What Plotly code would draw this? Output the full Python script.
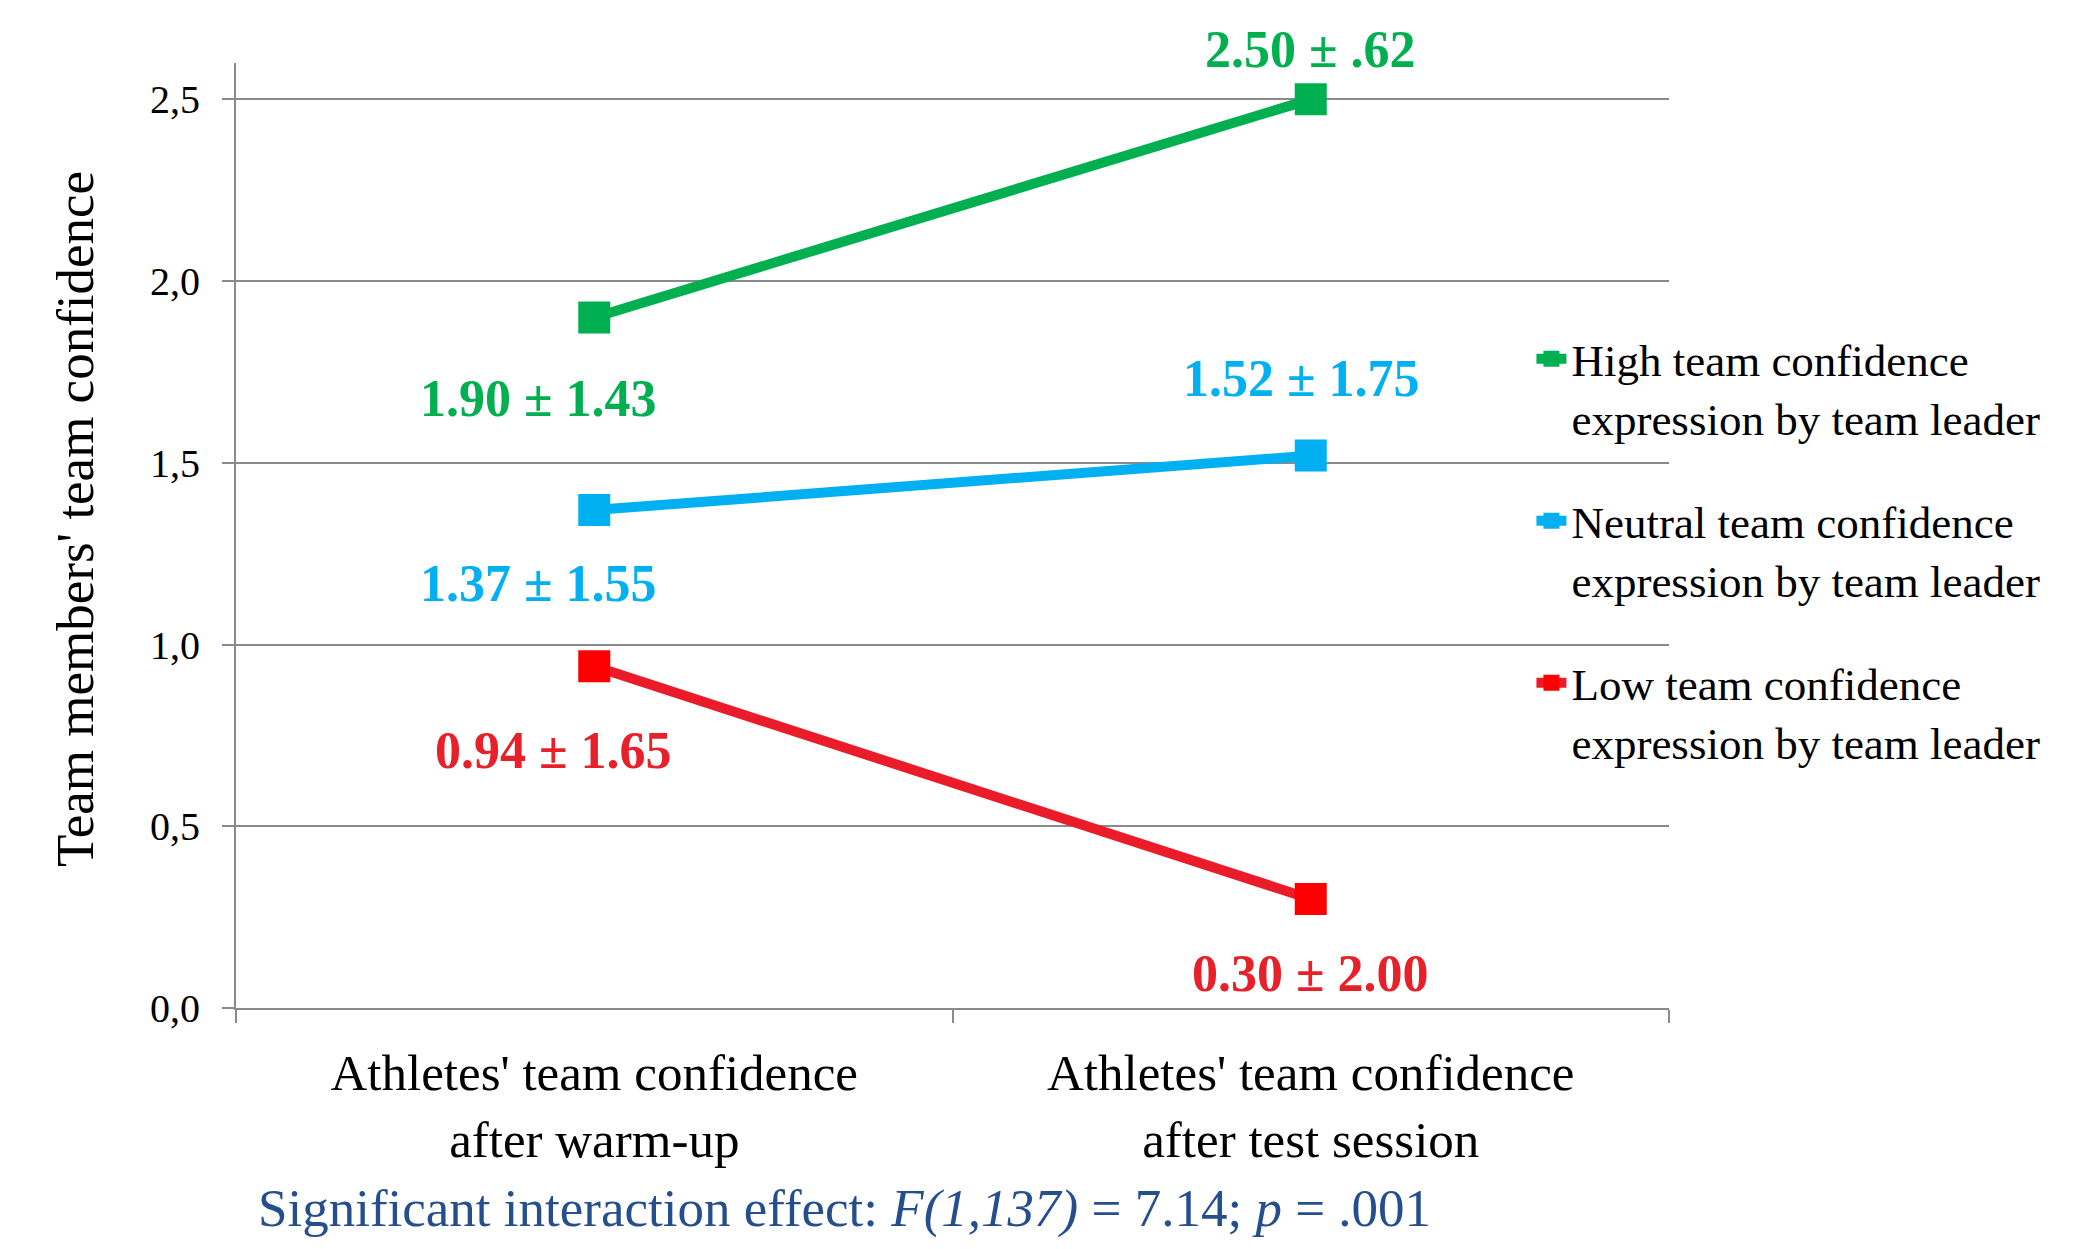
import plotly.graph_objects as go

# ---- data ----
categories = ["Athletes' team confidence<br>after warm-up",
              "Athletes' team confidence<br>after test session"]
series_names = ["High team confidence<br>expression by team leader",
                "Neutral team confidence<br>expression by team leader",
                "Low team confidence<br>expression by team leader"]
high_mean = [1.90, 2.50]
high_sd = [1.43, 0.62]
neutral_mean = [1.37, 1.52]
neutral_sd = [1.55, 1.75]
low_mean = [0.94, 0.30]
low_sd = [1.65, 2.00]
y_ticks = [0.0, 0.5, 1.0, 1.5, 2.0, 2.5]
y_title = "Team members' team confidence"
footnote = ("Significant interaction effect: <i>F(1,137)</i> = 7.14; <i>p</i> = .001")

# ---- styles ----
FONT = "Liberation Serif, Times New Roman, serif"
line_colors = ["#00B050", "#00B0F0", "#EB1C2A"]
marker_colors = ["#00B050", "#00B0F0", "#FF0000"]
label_colors = ["#00B050", "#00B0F0", "#E8202A"]
# label offsets in pixels (xshift, yshift) per series per point
label_shifts = [[(-56, -81), (0, 50)],
                [(-56, -73), (-9, 77)],
                [(-41, -84), (0, -75)]]


def fmt_sd(s):
    t = f"{s:.2f}"
    return t[1:] if t.startswith("0") else t


means = [high_mean, neutral_mean, low_mean]
sds = [high_sd, neutral_sd, low_sd]

fig = go.Figure()
for i in range(3):
    fig.add_trace(go.Scatter(
        x=categories, y=means[i], mode="lines+markers", name=series_names[i],
        legendgroup=f"g{i}",
        line=dict(color=line_colors[i], width=10),
        marker=dict(symbol="square", size=32, color=marker_colors[i], line=dict(width=0)),
        cliponaxis=False,
    ))
    for j in range(2):
        dx, dy = label_shifts[i][j]
        fig.add_annotation(
            x=categories[j], y=means[i][j], xref="x", yref="y",
            text=f"<b>{means[i][j]:.2f} ± {fmt_sd(sds[i][j])}</b>",
            showarrow=False, xshift=dx, yshift=dy,
            font=dict(family=FONT, size=52, color=label_colors[i]),
        )

# y-axis title
fig.add_annotation(
    x=-0.1124, y=0.5175, xref="paper", yref="paper", xanchor="center", yanchor="middle",
    text=y_title, textangle=-90, showarrow=False,
    font=dict(family=FONT, size=53, color="black"),
)

# footnote
fig.add_annotation(
    x=0.014, y=-0.212, xref="paper", yref="paper", xanchor="left", yanchor="middle",
    text=footnote, showarrow=False,
    font=dict(family=FONT, size=53, color="#254F8C"),
)

grid = "#8A8A8A"
fig.update_layout(
    width=2077, height=1233,
    margin=dict(l=228, r=416, t=55, b=233),
    paper_bgcolor="white", plot_bgcolor="white",
    separators=", ",
    font=dict(family=FONT, color="black"),
    showlegend=True,
    legend=dict(x=0.904, y=0.725, xanchor="left", yanchor="top",
                bgcolor="rgba(0,0,0,0)", font=dict(family=FONT, size=45, color="black"),
                valign="top", tracegroupgap=42),
    xaxis=dict(
        type="category", range=[-0.5, 1.5], showgrid=False, zeroline=False,
        showline=True, linecolor=grid, linewidth=2,
        ticks="outside", tickson="boundaries", ticklen=13, tickcolor=grid, tickwidth=2,
        tickfont=dict(family=FONT, size=51, color="black"),
        ticklabelstandoff=19,
    ),
    yaxis=dict(
        range=[0, 2.6], tickvals=y_ticks, tickformat=".1f",
        showgrid=True, gridcolor=grid, gridwidth=2, zeroline=False,
        showline=True, linecolor=grid, linewidth=2,
        ticks="outside", ticklen=12, tickcolor=grid, tickwidth=2,
        tickfont=dict(family=FONT, size=40, color="black"),
        ticklabelstandoff=14,
    ),
)

fig.write_html("out.html")
